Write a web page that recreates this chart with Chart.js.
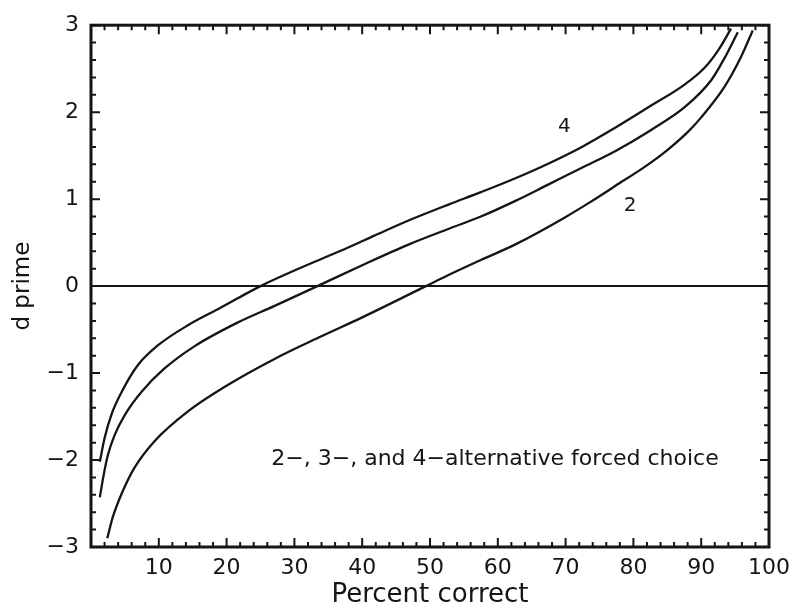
<!DOCTYPE html>
<html lang="en">
<head>
    <meta charset="UTF-8">
    <title>d prime | Percent correct</title>
    <script src="https://cdn.jsdelivr.net/npm/chart.js"></script>
    <style>
      html, body { margin: 0; background: #fff; }
    </style>
</head>
<body>
  <canvas id="myChartCanvasDprime" width="798" height="612"></canvas>

<script>
  // Curva 4 alternativas
  const xQuatro = [1.3, 2.0, 3.0, 4.5, 6.9, 9.9, 14.3, 19.1, 25.0, 33.0, 38.1, 41.8, 47.0, 52.8, 57.5, 62.6, 67.5, 72.4, 77.3, 82.5, 87.6, 90.5, 92.5, 94.4];
  const yQuatro = [-2.02, -1.75, -1.48, -1.22, -0.91, -0.68, -0.45, -0.25, 0.0, 0.28, 0.45, 0.58, 0.76, 0.94, 1.08, 1.24, 1.41, 1.60, 1.82, 2.07, 2.32, 2.51, 2.71, 2.96];

  // Curva 3 alternativas
  const xTres = [1.3, 1.8, 2.5, 3.5, 5.0, 7.4, 10.8, 15.3, 21.6, 27.0, 33.4, 40.0, 46.9, 52.8, 57.5, 62.6, 67.5, 72.4, 77.5, 82.5, 87.6, 91.5, 93.5, 95.4];
  const yTres = [-2.43, -2.20, -1.94, -1.71, -1.48, -1.22, -0.95, -0.69, -0.42, -0.23, 0.0, 0.24, 0.48, 0.66, 0.80, 0.98, 1.17, 1.36, 1.56, 1.79, 2.06, 2.37, 2.63, 2.92];

  // Curva 2 alternativas
  const xDois = [2.4, 3.2, 4.5, 6.4, 9.4, 14.3, 20.1, 27.0, 33.9, 40.0, 49.4, 52.8, 57.5, 62.6, 69.9, 73.5, 77.3, 82.2, 85.1, 88.0, 90.0, 93.5, 95.9, 97.6];
  const yDois = [-2.90, -2.66, -2.39, -2.09, -1.78, -1.44, -1.14, -0.84, -0.58, -0.36, 0.0, 0.13, 0.30, 0.48, 0.79, 0.96, 1.15, 1.40, 1.57, 1.77, 1.94, 2.30, 2.64, 2.94];

  // Linha horizontal em d' = 0
  const xZero = [0, 100];
  const yZero = [0, 0];

  const ticksX = [10, 20, 30, 40, 50, 60, 70, 80, 90, 100];

  const corTraco = '#151515';
  const fonte = 'DejaVu Sans';

  function pontos(xs, ys) {
    return xs.map(function (v, i) { return { x: v, y: ys[i] }; });
  }

  function curva(xs, ys, largura) {
    return {
      data: pontos(xs, ys),
      borderColor: corTraco,
      borderWidth: largura,
      pointRadius: 0,
      fill: false,
      cubicInterpolationMode: 'monotone'
    };
  }

  // Moldura com marcas para dentro nos quatro lados + textos do gráfico
  const moldura = {
    id: 'moldura',
    afterDatasetsDraw(chart) {
      const ctx = chart.ctx;
      const a = chart.chartArea;
      const x = chart.scales.x;
      const y = chart.scales.y;

      ctx.save();
      ctx.strokeStyle = corTraco;
      ctx.lineWidth = 2;
      ctx.beginPath();
      for (let v = 0; v <= 100; v += 2) {
        const px = x.getPixelForValue(v);
        const t = v % 10 === 0 ? 9 : 5;
        ctx.moveTo(px, a.bottom); ctx.lineTo(px, a.bottom - t);
        ctx.moveTo(px, a.top); ctx.lineTo(px, a.top + t);
      }
      for (let i = -15; i <= 15; i++) {
        const py = y.getPixelForValue(i / 5);
        const t = i % 5 === 0 ? 9 : 5;
        ctx.moveTo(a.left, py); ctx.lineTo(a.left + t, py);
        ctx.moveTo(a.right, py); ctx.lineTo(a.right - t, py);
      }
      ctx.stroke();

      ctx.lineWidth = 3;
      ctx.strokeRect(a.left, a.top, a.right - a.left, a.bottom - a.top);

      ctx.fillStyle = corTraco;
      ctx.font = '20px "' + fonte + '"';
      ctx.textAlign = 'center';
      ctx.textBaseline = 'middle';
      ctx.fillText('4', x.getPixelForValue(69.8), y.getPixelForValue(1.83));
      ctx.fillText('2', x.getPixelForValue(79.5), y.getPixelForValue(0.92));

      ctx.font = '22px "' + fonte + '"';
      ctx.textAlign = 'left';
      ctx.fillText('2\u2212, 3\u2212, and 4\u2212alternative forced choice', x.getPixelForValue(26.6), y.getPixelForValue(-1.99));
      ctx.restore();
    }
  };

  const configDprime = {
    type: 'line',
    data: {
      datasets: [
        curva(xQuatro, yQuatro, 2.3),
        curva(xTres, yTres, 2.3),
        curva(xDois, yDois, 2.3),
        curva(xZero, yZero, 2)
      ]
    },
    options: {
      responsive: false,
      animation: false,
      layout: { padding: { left: 0, right: 27, top: 19, bottom: 0 } },
      plugins: {
        legend: { display: false },
        tooltip: { enabled: false }
      },
      scales: {
        x: {
          type: 'linear',
          min: 0,
          max: 100,
          afterBuildTicks(s) { s.ticks = ticksX.map(function (v) { return { value: v }; }); },
          afterFit(s) { s.height = 65; },
          grid: { display: false, drawTicks: false },
          border: { display: false },
          ticks: {
            color: corTraco,
            font: { family: fonte, size: 22 },
            padding: 8,
            maxRotation: 0,
            autoSkip: false
          },
          title: {
            display: true,
            text: 'Percent correct',
            color: corTraco,
            font: { family: fonte, size: 26 },
            padding: { top: 0, bottom: 1 }
          }
        },
        y: {
          min: -3,
          max: 3,
          afterFit(s) { s.width = 91; },
          grid: { display: false, drawTicks: false },
          border: { display: false },
          ticks: {
            stepSize: 1,
            color: corTraco,
            font: { family: fonte, size: 22 },
            padding: 12,
            callback: function (v) { return v < 0 ? '\u2212' + Math.abs(v) : String(v); }
          },
          title: {
            display: true,
            text: 'd prime',
            color: corTraco,
            font: { family: fonte, size: 23 },
            padding: { top: 9, bottom: 0 }
          }
        }
      }
    },
    plugins: [moldura]
  };

  let myChartDprime = new Chart(
    document.getElementById('myChartCanvasDprime'),
    configDprime
  );
</script>
</body>
</html>
